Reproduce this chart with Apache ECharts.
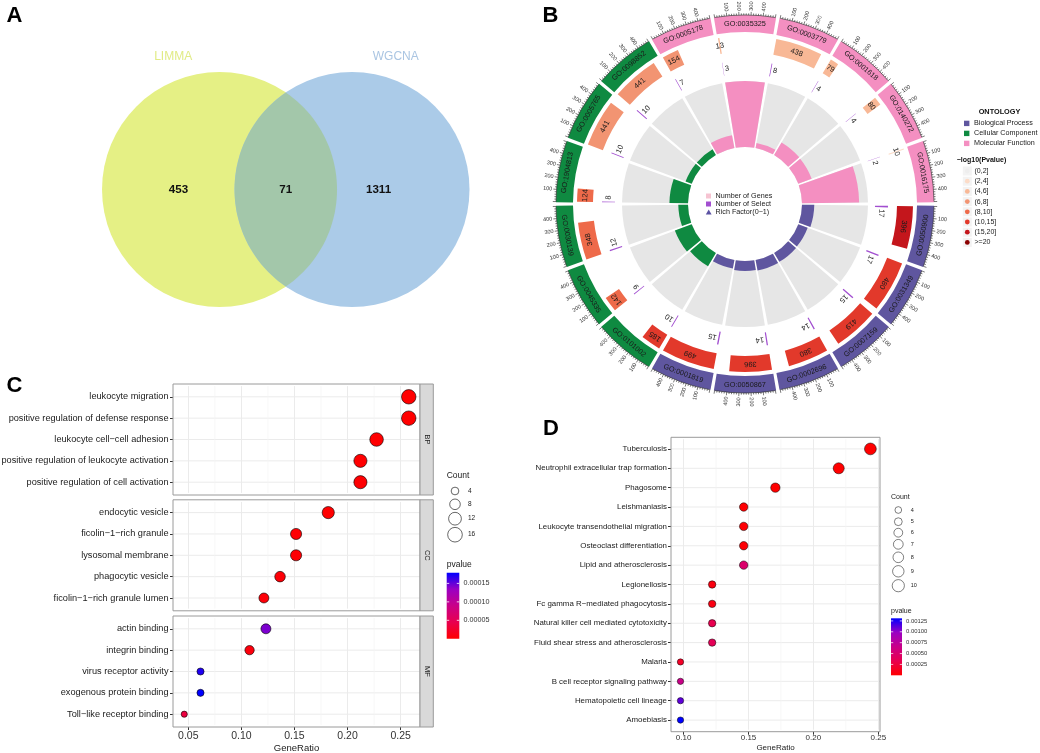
<!DOCTYPE html>
<html>
<head>
<meta charset="utf-8">
<script src="https://cdn.jsdelivr.net/npm/echarts@6.0.0/dist/echarts.min.js"></script>
<style>
html,body{margin:0;padding:0;background:#ffffff;}
#chart{width:1040px;height:753px;}
</style>
</head>
<body>
<div id="chart"></div>
<script>
const FONT = '"Liberation Sans", Arial, Helvetica, sans-serif';

/* ---------- Panel A : Venn ---------- */
const vennSets = ['LIMMA', 'WGCNA'];
const vennRegionCounts = [453, 71, 1311];   // LIMMA only, shared, WGCNA only

/* ---------- Panel B : GO circle (clockwise from 3 o'clock) ---------- */
const goIds = ['GO:0050900','GO:0031349','GO:0007159','GO:0002696','GO:0050867','GO:0001819',
  'GO:0101002','GO:0045335','GO:0030139','GO:1904813','GO:0005765','GO:0098852',
  'GO:0005178','GO:0035325','GO:0003779','GO:0001618','GO:0140272','GO:0016175'];
const goOntology = ['BP','BP','BP','BP','BP','BP','CC','CC','CC','CC','CC','CC','MF','MF','MF','MF','MF','MF'];
const goGenes = [396,480,419,380,396,499,185,142,348,124,441,441,154,13,438,79,80,10];
const goSelect = [17,17,15,14,14,15,10,9,12,8,10,10,7,3,8,4,4,2];
const goRichFactor = [0.043,0.035,0.036,0.037,0.035,0.030,0.054,0.063,0.034,0.065,0.023,0.023,0.045,0.231,0.018,0.051,0.050,0.200];
const goLogPBin = [6,5,5,5,5,5,5,4,4,4,3,3,3,2,2,2,2,1];
const ontologyKeys = ['BP','CC','MF'];
const ontologyNames = ['Biological Process','Cellular Component','Molecular Function'];
const logPBinLabels = ['(0,2]','(2,4]','(4,6]','(6,8]','(8,10]','(10,15]','(15,20]','>=20'];
const geneTickLabels = [100,200,300,400];

/* ---------- Panel C : GO dot plot ---------- */
const cBPTerms = ['leukocyte migration','positive regulation of defense response','leukocyte cell\u2212cell adhesion','positive regulation of leukocyte activation','positive regulation of cell activation'];
const cBPRatio = [0.2576,0.2576,0.2273,0.2121,0.2121];
const cBPCount = [17,17,15,14,14];
const cBPPvalue = [2.0e-7,3.0e-7,6.0e-7,9.0e-7,1.2e-6];
const cCCTerms = ['endocytic vesicle','ficolin\u22121\u2212rich granule','lysosomal membrane','phagocytic vesicle','ficolin\u22121\u2212rich granule lumen'];
const cCCRatio = [0.1818,0.1515,0.1515,0.1364,0.1212];
const cCCCount = [12,10,10,9,8];
const cCCPvalue = [1.0e-6,2.5e-6,3.0e-6,4.0e-6,5.0e-6];
const cMFTerms = ['actin binding','integrin binding','virus receptor activity','exogenous protein binding','Toll\u2212like receptor binding'];
const cMFRatio = [0.1231,0.1077,0.0615,0.0615,0.0462];
const cMFCount = [8,7,4,4,3];
const cMFPvalue = [1.43e-4,7.0e-6,1.70e-4,1.79e-4,3.6e-5];
const cTicks = [0.05,0.10,0.15,0.20,0.25];
const cMinorTicks = [0.075,0.125,0.175,0.225];
const cCountBreaks = [4,8,12,16];
const cPvalueBreaks = [0.00005,0.00010,0.00015];

/* ---------- Panel D : KEGG dot plot ---------- */
const dTerms = ['Tuberculosis','Neutrophil extracellular trap formation','Phagosome','Leishmaniasis','Leukocyte transendothelial migration','Osteoclast differentiation','Lipid and atherosclerosis','Legionellosis','Fc gamma R\u2212mediated phagocytosis','Natural killer cell mediated cytotoxicity','Fluid shear stress and atherosclerosis','Malaria','B cell receptor signaling pathway','Hematopoietic cell lineage','Amoebiasis'];
const dRatio = [0.2439,0.2195,0.1707,0.1463,0.1463,0.1463,0.1463,0.1220,0.1220,0.1220,0.1220,0.0976,0.0976,0.0976,0.0976];
const dCount = [10,9,7,6,6,6,6,5,5,5,5,4,4,4,4];
const dPvalue = [1e-7,4e-7,2e-6,1.2e-5,1.6e-5,2.2e-5,4.8e-4,6.5e-5,7.5e-5,3.3e-4,3.7e-4,1.6e-4,6.5e-4,1.11e-3,1.31e-3];
const dTicks = [0.10,0.15,0.20,0.25];
const dMinorTicks = [0.125,0.175,0.225];
const dCountBreaks = [4,5,6,7,8,9,10];
const dPvalueBreaks = [0.00025,0.00050,0.00075,0.00100,0.00125];

/* ---------- styles ---------- */
const pColors = ['#ff0000','#e8004f','#c90088','#9a00c3','#0000ff'];
const ontColor = {BP:'#5f569f', CC:'#0f8a41', MF:'#f48fc1'};
const binColors = ['#eeeeee','#fcdcc8','#f8b896','#f29472','#ee6a4a','#e2392b','#c4161c','#8b0000'];
const SELECT_COLOR = '#a24fd0';
const SPAN = 540;
const B_CENTER = [745, 204];
const FRAME = '#9a9a9a';

function sizeC(c){ const s = 1 + 5*(Math.sqrt(c)-Math.sqrt(3))/(Math.sqrt(17)-Math.sqrt(3)); return 4.5 + 1.66*s; }
function sizeD(c){ const s = 1 + 5*(Math.sqrt(c)-2)/(Math.sqrt(10)-2); return 5.2 + 1.1*s; }

function textEl(x, y, rot, text, size, color, weight, align) {
  return {type:'text', x:x, y:y, rotation:rot||0,
    style:{text:String(text), fill:color||'#111', fontSize:size, fontFamily:FONT, fontWeight:weight||'normal',
      align:align||'center', textAlign:align||'center', verticalAlign:'middle', textVerticalAlign:'middle'}};
}
function polarPt(params, api, rv, av) {
  const p = api.coord([rv, av]);
  const cx = params.coordSys.cx, cy = params.coordSys.cy;
  return {x:p[0], y:p[1], cx:cx, cy:cy, r:Math.hypot(p[0]-cx, p[1]-cy), a:Math.atan2(p[1]-cy, p[0]-cx)};
}
function sectorEl(params, api, r0v, r1v, a0v, a1v, fill) {
  const p0 = polarPt(params, api, r0v, a0v), p1 = polarPt(params, api, r1v, a1v);
  let s = p0.a, e = p1.a; if (e < s) e += Math.PI*2;
  return {type:'sector', shape:{cx:p0.cx, cy:p0.cy, r0:p0.r, r:p1.r, startAngle:s, endAngle:e, clockwise:true}, style:{fill:fill}};
}
function norm(t){ const T = Math.PI*2; return ((t % T) + T) % T; }
function tangRot(a, nice) {
  const th = norm(a + Math.PI/2);
  if (nice && th > Math.PI/2 && th < 3*Math.PI/2) return Math.PI - th;
  return -th;
}
function radialRot(a) {
  const th = norm(a + Math.PI/2);
  return th <= Math.PI ? Math.PI/2 - th : 3*Math.PI/2 - th;
}

const chart = echarts.init(document.getElementById('chart'));

const grids = [], xAxes = [], yAxes = [], series = [], G = [];

/* ===== Panel A ===== */
grids.push({left:0, top:0, width:520, height:370, containLabel:false, outerBoundsMode:'none'});
xAxes.push({gridIndex:0, type:'value', min:-1.657, max:2.268, show:false});
yAxes.push({gridIndex:0, type:'value', min:-1.362, max:1.430, show:false});
const vennSetColors = ['#e5f085','#abcbe8'];
const vennTitleColors = ['#e1eb86','#aac5e2'];
const VENN_R = 117.5;
series.push({type:'scatter', xAxisIndex:0, yAxisIndex:0, silent:true, z:1,
  symbolSize: VENN_R*2,
  data: vennSets.map((s,i)=>({value:[i,0], itemStyle:{color:vennSetColors[i], opacity:1}}))});
series.push({type:'custom', xAxisIndex:0, yAxisIndex:0, silent:true, z:2,
  data:[[0,0,1,0]],
  renderItem:function(params, api){
    const c1 = api.coord([api.value(0), api.value(1)]), c2 = api.coord([api.value(2), api.value(3)]);
    const d = c2[0]-c1[0];
    const phi = Math.acos((d/2)/VENN_R);
    const pts = [];
    for (let k=0;k<=48;k++){ const t = -phi + 2*phi*k/48; pts.push([c1[0]+VENN_R*Math.cos(t), c1[1]+VENN_R*Math.sin(t)]); }
    for (let k=0;k<=48;k++){ const t = Math.PI - phi + 2*phi*k/48; pts.push([c2[0]+VENN_R*Math.cos(t), c2[1]+VENN_R*Math.sin(t)]); }
    return {type:'polygon', shape:{points:pts}, style:{fill:'#a3c7aa'}};
  }});
const vennRegionX = [-0.31, 0.5, 1.2];
const vennTitleX = [-0.35, 1.33];
series.push({type:'custom', xAxisIndex:0, yAxisIndex:0, silent:true, z:3,
  data: vennRegionCounts.map((c,i)=>[vennRegionX[i], 0, c]),
  renderItem:function(params, api){
    const p = api.coord([api.value(0), api.value(1)]);
    return textEl(p[0], p[1], 0, api.value(2), 11.6, '#111', 'bold');
  }});
series.push({type:'custom', xAxisIndex:0, yAxisIndex:0, silent:true, z:3,
  data: vennSets.map((s,i)=>[vennTitleX[i], 1.0, i]),
  renderItem:function(params, api){
    const i = api.value(2);
    const p = api.coord([api.value(0), api.value(1)]);
    return textEl(p[0], p[1], 0, vennSets[i], 12, vennTitleColors[i]);
  }});

/* ===== Panel B ===== */
const polars = [
  {center:B_CENTER, radius:[57,123]},
  {center:B_CENTER, radius:[128,189]}
];
const angleAxes = [
  {polarIndex:0, type:'category', data:goIds, startAngle:0, clockwise:true, boundaryGap:true,
   axisLine:{show:false}, axisTick:{show:false}, axisLabel:{show:false}, splitLine:{show:false}},
  {polarIndex:1, type:'value', min:-20, max:18*SPAN-20, startAngle:0, clockwise:true,
   axisLine:{show:false}, axisTick:{show:false}, axisLabel:{show:false}, splitLine:{show:false}}
];
const radiusAxes = [
  {polarIndex:0, type:'value', min:0, max:0.231, axisLine:{show:false}, axisTick:{show:false}, axisLabel:{show:false}, splitLine:{show:false}},
  {polarIndex:1, type:'value', min:0, max:61, axisLine:{show:false}, axisTick:{show:false}, axisLabel:{show:false}, splitLine:{show:false}}
];
series.push({type:'bar', coordinateSystem:'polar', polarIndex:0, silent:true, barCategoryGap:'7%',
  showBackground:true, backgroundStyle:{color:'#e6e6e6'},
  data: goRichFactor.map((v,i)=>({value:v, itemStyle:{color:ontColor[goOntology[i]]}}))});
// ontology label ring
series.push({type:'custom', coordinateSystem:'polar', polarIndex:1, silent:true, z:3,
  data: goIds.map((id,i)=>[52.5, i*SPAN+250, i]),
  renderItem:function(params, api){
    const i = api.value(2);
    const sec = sectorEl(params, api, 44, 61, i*SPAN-6, i*SPAN+506, ontColor[goOntology[i]]);
    const m = polarPt(params, api, 52.5, i*SPAN+250);
    return {type:'group', children:[sec, textEl(m.x, m.y, tangRot(m.a, true), goIds[i], 7.3, '#1a1a1a')]};
  }});
// number of genes ring
series.push({type:'custom', coordinateSystem:'polar', polarIndex:1, silent:true, z:3,
  data: goGenes.map((g,i)=>[32, i*SPAN, g, goLogPBin[i]]),
  renderItem:function(params, api){
    const a0 = api.value(1), g = api.value(2), bin = api.value(3);
    const sec = sectorEl(params, api, 24, 40, a0, a0+g, binColors[bin]);
    const m = polarPt(params, api, 32, a0+g/2);
    return {type:'group', children:[sec, textEl(m.x, m.y, tangRot(m.a, false), g, 7.5, '#1a1a1a')]};
  }});
// number of select ring
series.push({type:'custom', coordinateSystem:'polar', polarIndex:1, silent:true, z:3,
  data: goSelect.map((s,i)=>[8.5, i*SPAN, s]),
  renderItem:function(params, api){
    const a0 = api.value(1), s = api.value(2);
    const sec = sectorEl(params, api, 2, 15, a0, a0+s, SELECT_COLOR);
    const q0 = polarPt(params, api, 8.5, a0), q1 = polarPt(params, api, 8.5, a0+100);
    const pxPerUnit = Math.hypot(q1.x-q0.x, q1.y-q0.y)/100;
    const off = (String(s).length*2.1 + 1.8)/pxPerUnit;
    const m = polarPt(params, api, 8.5, a0+s+off);
    return {type:'group', children:[sec, textEl(m.x, m.y, tangRot(m.a, false), s, 7.5, '#1a1a1a')]};
  }});
// gene-count scale ticks on outer edge
series.push({type:'custom', coordinateSystem:'polar', polarIndex:1, silent:true, z:3,
  data: goIds.map((id,i)=>[61, i*SPAN]),
  renderItem:function(params, api){
    const a0 = api.value(1); const ch = [];
    for (let k=0;k<=25;k++){
      const v = a0 + k*20, major = (k%5===0);
      const p0 = polarPt(params, api, 61, v), p1 = polarPt(params, api, major?64.2:62.7, v);
      ch.push({type:'line', shape:{x1:p0.x,y1:p0.y,x2:p1.x,y2:p1.y}, style:{stroke:'#222', lineWidth:0.6}});
    }
    const s = polarPt(params, api, 61, a0), e = polarPt(params, api, 61, a0+500);
    let sa = s.a, ea = e.a; if (ea < sa) ea += Math.PI*2;
    ch.push({type:'arc', shape:{cx:s.cx, cy:s.cy, r:s.r, startAngle:sa, endAngle:ea, clockwise:true}, style:{stroke:'#222', lineWidth:0.6, fill:'none'}});
    geneTickLabels.forEach(function(t){
      const p = polarPt(params, api, 70, a0+t);
      ch.push(textEl(p.x, p.y, radialRot(p.a), t, 5.5, '#333'));
    });
    return {type:'group', children:ch};
  }});

// Panel B legends
G.push({type:'rect', shape:{x:706, y:193.5, width:5, height:5}, style:{fill:'#f6c4d2'}});
G.push(textEl(715.5, 196, 0, 'Number of Genes', 7.2, '#1a1a1a', 'normal', 'left'));
G.push({type:'rect', shape:{x:706, y:201.5, width:5, height:5}, style:{fill:SELECT_COLOR}});
G.push(textEl(715.5, 204, 0, 'Number of Select', 7.2, '#1a1a1a', 'normal', 'left'));
G.push({type:'polygon', shape:{points:[[705.8,214.6],[711.6,214.6],[708.7,209.4]]}, style:{fill:'#5b52a3'}});
G.push(textEl(715.5, 212.3, 0, 'Rich Factor(0\u22121)', 7.2, '#1a1a1a', 'normal', 'left'));

G.push(textEl(999.5, 111.7, 0, 'ONTOLOGY', 7.3, '#111', 'bold', 'center'));
ontologyKeys.forEach(function(k,i){
  G.push({type:'rect', shape:{x:964, y:120.7+i*10, width:5.4, height:5.4}, style:{fill:ontColor[k]}});
  G.push(textEl(974, 123.4+i*10, 0, ontologyNames[i], 7.2, '#1a1a1a', 'normal', 'left'));
});
G.push(textEl(956.7, 160.5, 0, '\u2212log10(Pvalue)', 7, '#111', 'bold', 'left'));
logPBinLabels.forEach(function(l,i){
  const y = 171 + i*10.2;
  G.push({type:'rect', shape:{x:962.8, y:y-4.5, width:9, height:9}, style:{fill:'#f3f3f3'}});
  G.push({type:'circle', shape:{cx:967.3, cy:y, r:2.4}, style:{fill:binColors[i]}});
  G.push(textEl(974.5, y, 0, l, 7, '#1a1a1a', 'normal', 'left'));
});

/* ===== helpers for dot-plot grid lines (drawn beneath the dots) ===== */
function hGridSeries(gi, terms, xmin) {
  return {type:'custom', xAxisIndex:gi, yAxisIndex:gi, silent:true, z:1,
    data: terms.map(t=>[xmin, t]),
    renderItem:function(params, api){
      const p = api.coord([api.value(0), api.value(1)]);
      const cs = params.coordSys;
      return {type:'line', shape:{x1:cs.x, y1:p[1], x2:cs.x+cs.width, y2:p[1]}, style:{stroke:'#ebebeb', lineWidth:1}};
    }};
}
function vMinorSeries(gi, vals, firstTerm) {
  return {type:'custom', xAxisIndex:gi, yAxisIndex:gi, silent:true, z:1,
    data: vals.map(v=>[v, firstTerm]),
    renderItem:function(params, api){
      const p = api.coord([api.value(0), api.value(1)]);
      const cs = params.coordSys;
      return {type:'line', shape:{x1:p[0], y1:cs.y, x2:p[0], y2:cs.y+cs.height}, style:{stroke:'#f4f4f4', lineWidth:0.7}};
    }};
}

/* ===== Panel C ===== */
const cFacets = [
  {key:'BP', terms:cBPTerms, ratio:cBPRatio, count:cBPCount, p:cBPPvalue, top:384},
  {key:'CC', terms:cCCTerms, ratio:cCCRatio, count:cCCCount, p:cCCPvalue, top:499.8},
  {key:'MF', terms:cMFTerms, ratio:cMFRatio, count:cMFCount, p:cMFPvalue, top:616}
];
const C_LEFT = 173, C_W = 247, C_H = 111, C_INSET = 0.1*111/5.2;
const C_MIN = 0.0356, C_MAX = 0.2682;
const cScatterIdx = [];
function tickFormatter(list){ return function(v){ return list.some(t=>Math.abs(t-v)<1e-9) ? v.toFixed(2) : ''; }; }
cFacets.forEach(function(f, j){
  const gi = grids.length;
  const last = (j === cFacets.length-1);
  grids.push({left:C_LEFT, top:f.top + C_INSET, width:C_W, height:C_H - 2*C_INSET, containLabel:false, outerBoundsMode:'none'});
  xAxes.push({gridIndex:gi, type:'value', min:C_MIN, max:C_MAX, offset: C_INSET,
    axisLine:{show:false},
    axisTick:{show:last, length:3, lineStyle:{color:'#333', width:1}, customValues:cTicks},
    axisLabel:{show:last, customValues:cTicks, formatter:tickFormatter(cTicks), fontSize:10.5, color:'#333', margin:4},
    splitLine:{show:true, lineStyle:{color:'#ebebeb', width:1}},
    name: last ? 'GeneRatio' : '', nameLocation:'middle', nameGap:14,
    nameTextStyle:{fontSize:9.5, color:'#1a1a1a', fontFamily:FONT}});
  yAxes.push({gridIndex:gi, type:'category', data:f.terms, inverse:true, boundaryGap:true,
    axisLine:{show:false},
    axisTick:{show:true, alignWithLabel:true, length:3, lineStyle:{color:'#333', width:1}},
    axisLabel:{show:true, interval:0, fontSize:9.2, color:'#1a1a1a', margin:4.5},
    splitLine:{show:false}});
  series.push(hGridSeries(gi, f.terms, C_MIN));
  series.push(vMinorSeries(gi, cMinorTicks, f.terms[0]));
  cScatterIdx.push(series.length);
  series.push({type:'scatter', xAxisIndex:gi, yAxisIndex:gi, silent:true, z:3,
    data: f.terms.map((t,k)=>[f.ratio[k], t, f.count[k], f.p[k]]),
    symbolSize:function(v){ return sizeC(v[2]); },
    itemStyle:{borderColor:'#000', borderWidth:0.6, opacity:1}});
  G.push({type:'rect', shape:{x:C_LEFT, y:f.top, width:C_W, height:C_H}, style:{fill:'none', stroke:FRAME, lineWidth:1}, z:50});
  G.push({type:'rect', shape:{x:C_LEFT+C_W, y:f.top, width:13.3, height:C_H}, style:{fill:'#d9d9d9', stroke:FRAME, lineWidth:1}, z:50});
  G.push(Object.assign(textEl(C_LEFT+C_W+6.7, f.top+C_H/2, -Math.PI/2, f.key, 7.5, '#1a1a1a'), {z:51}));
});

// C legends
G.push(textEl(446.7, 476, 0, 'Count', 8.5, '#1a1a1a', 'normal', 'left'));
const cCountY = [491, 504.3, 518.7, 534.7];
cCountBreaks.forEach(function(c,i){
  G.push({type:'circle', shape:{cx:455, cy:cCountY[i], r:sizeC(c)/2+0.3}, style:{fill:'#fff', stroke:'#000', lineWidth:0.6}});
  G.push(textEl(468, cCountY[i], 0, c, 6.5, '#1a1a1a', 'normal', 'left'));
});
G.push(textEl(446.7, 564.7, 0, 'pvalue', 8.5, '#1a1a1a', 'normal', 'left'));
const cBar = {x:446.7, y:572.7, w:12.6, h:66, min:2e-7, max:1.79e-4};
function gradStops(){ return pColors.map((c,i)=>({offset:i/(pColors.length-1), color:c})); }
G.push({type:'rect', shape:{x:cBar.x, y:cBar.y, width:cBar.w, height:cBar.h}, style:{fill:new echarts.graphic.LinearGradient(0,1,0,0,gradStops())}});
cPvalueBreaks.forEach(function(v){
  const y = cBar.y + cBar.h - (v-cBar.min)/(cBar.max-cBar.min)*cBar.h;
  G.push({type:'line', shape:{x1:cBar.x, y1:y, x2:cBar.x+2.5, y2:y}, style:{stroke:'#fff', lineWidth:0.8}});
  G.push({type:'line', shape:{x1:cBar.x+cBar.w-2.5, y1:y, x2:cBar.x+cBar.w, y2:y}, style:{stroke:'#fff', lineWidth:0.8}});
  G.push(textEl(463.5, y, 0, v.toFixed(5), 7.2, '#333', 'normal', 'left'));
});

/* ===== Panel D ===== */
const D_LEFT = 671, D_TOP = 437.3, D_W = 209, D_H = 294.4, D_INSET = 0.1*294.4/15.2;
const D_MIN = 0.0903, D_MAX = 0.2513;
const dGi = grids.length;
grids.push({left:D_LEFT, top:D_TOP + D_INSET, width:D_W, height:D_H - 2*D_INSET, containLabel:false, outerBoundsMode:'none'});
xAxes.push({gridIndex:dGi, type:'value', min:D_MIN, max:D_MAX, offset:D_INSET,
  axisLine:{show:false},
  axisTick:{show:true, length:3, lineStyle:{color:'#333', width:1}, customValues:dTicks},
  axisLabel:{show:true, customValues:dTicks, formatter:tickFormatter(dTicks), fontSize:8, color:'#333', margin:2.5},
  splitLine:{show:true, lineStyle:{color:'#ebebeb', width:1}},
  name:'GeneRatio', nameLocation:'middle', nameGap:11.6,
  nameTextStyle:{fontSize:8, color:'#1a1a1a', fontFamily:FONT}});
yAxes.push({gridIndex:dGi, type:'category', data:dTerms, inverse:true, boundaryGap:true,
  axisLine:{show:false},
  axisTick:{show:true, alignWithLabel:true, length:3, lineStyle:{color:'#333', width:1}},
  axisLabel:{show:true, interval:0, fontSize:7.9, color:'#1a1a1a', margin:4},
  splitLine:{show:false}});
series.push(hGridSeries(dGi, dTerms, D_MIN));
series.push(vMinorSeries(dGi, dMinorTicks, dTerms[0]));
const dScatterIdx = series.length;
series.push({type:'scatter', xAxisIndex:dGi, yAxisIndex:dGi, silent:true, z:3,
  data: dTerms.map((t,k)=>[dRatio[k], t, dCount[k], dPvalue[k]]),
  symbolSize:function(v){ return sizeD(v[2]); },
  itemStyle:{borderColor:'#000', borderWidth:0.5, opacity:1}});
G.push({type:'rect', shape:{x:D_LEFT, y:D_TOP, width:D_W, height:D_H}, style:{fill:'none', stroke:FRAME, lineWidth:1}, z:50});

// D legends
G.push(textEl(891, 497, 0, 'Count', 7, '#1a1a1a', 'normal', 'left'));
const dCountY = [510, 521.7, 532.7, 544.3, 557.3, 571.3, 585.7];
dCountBreaks.forEach(function(c,i){
  G.push({type:'circle', shape:{cx:898.3, cy:dCountY[i], r:sizeD(c)/2+0.2}, style:{fill:'#fff', stroke:'#000', lineWidth:0.5}});
  G.push(textEl(910.7, dCountY[i], 0, c, 5.5, '#1a1a1a', 'normal', 'left'));
});
G.push(textEl(891, 611.3, 0, 'pvalue', 7, '#1a1a1a', 'normal', 'left'));
const dBar = {x:891, y:618.3, w:11, h:57, min:1e-7, max:1.31e-3};
G.push({type:'rect', shape:{x:dBar.x, y:dBar.y, width:dBar.w, height:dBar.h}, style:{fill:new echarts.graphic.LinearGradient(0,1,0,0,gradStops())}});
dPvalueBreaks.forEach(function(v){
  const y = dBar.y + dBar.h - (v-dBar.min)/(dBar.max-dBar.min)*dBar.h;
  G.push({type:'line', shape:{x1:dBar.x, y1:y, x2:dBar.x+2.2, y2:y}, style:{stroke:'#fff', lineWidth:0.7}});
  G.push({type:'line', shape:{x1:dBar.x+dBar.w-2.2, y1:y, x2:dBar.x+dBar.w, y2:y}, style:{stroke:'#fff', lineWidth:0.7}});
  G.push(textEl(906, y, 0, v.toFixed(5), 5.9, '#333', 'normal', 'left'));
});

/* ===== Panel letters ===== */
[['A',14.5,16],['B',550.5,15.5],['C',14.5,385.5],['D',551,429]].forEach(function(l){
  G.push(textEl(l[1], l[2], 0, l[0], 22, '#000', 'bold'));
});

const option = {
  animation:false,
  backgroundColor:'#ffffff',
  textStyle:{fontFamily:FONT},
  grid:grids, xAxis:xAxes, yAxis:yAxes,
  polar:polars, angleAxis:angleAxes, radiusAxis:radiusAxes,
  visualMap:[
    {type:'continuous', show:false, seriesIndex:cScatterIdx, dimension:3, min:2e-7, max:1.79e-4, inRange:{color:pColors}},
    {type:'continuous', show:false, seriesIndex:[dScatterIdx], dimension:3, min:1e-7, max:1.31e-3, inRange:{color:pColors}}
  ],
  series:series,
  graphic:{elements:G}
};
chart.setOption(option);
</script>
</body>
</html>
